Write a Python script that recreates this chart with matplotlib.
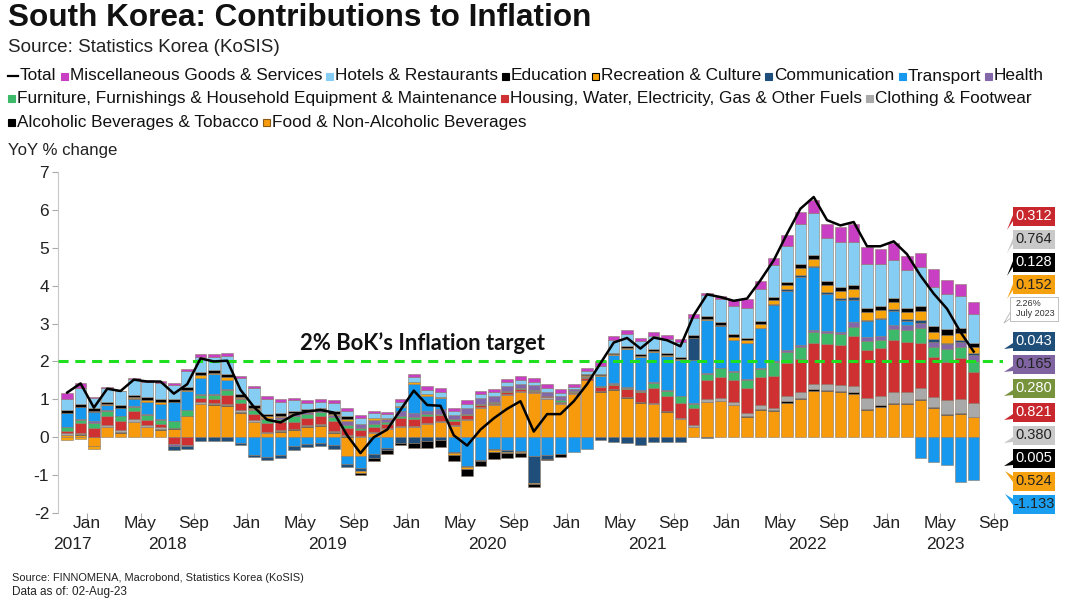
import numpy as np
import matplotlib.pyplot as plt
from matplotlib.lines import Line2D
from matplotlib.patches import Rectangle, Polygon
import matplotlib.transforms as mtransforms

plt.rcParams['font.family'] = ['Liberation Sans', 'DejaVu Sans']
plt.rcParams['axes.unicode_minus'] = False

# monthly contributions (pp), Nov 2017 .. Jul 2023
start_year, start_month = 2017, 11

total = [1.18, 1.42, 0.78, 1.28, 1.22, 1.52, 1.47, 1.47, 1.15, 1.40,
         2.08, 2.00, 2.02, 1.25, 0.80, 0.46, 0.39, 0.59, 0.68, 0.72,
         0.65, 0.05, -0.42, 0.00, 0.20, 0.72, 1.23, 0.85, 0.83, 0.05,
         -0.22, 0.20, 0.50, 0.75, 0.95, 0.15, 0.61, 0.61, 0.95, 1.40,
         1.95, 2.50, 2.62, 2.34, 2.63, 2.56, 2.40, 3.22, 3.77, 3.70,
         3.60, 3.66, 4.14, 4.67, 5.37, 6.03, 6.34, 5.73, 5.59, 5.68,
         5.04, 5.04, 5.17, 4.83, 4.27, 3.79, 3.39, 2.78, 2.26]

food = [0.05, 0.06, -0.22, 0.26, 0.12, 0.39, 0.26, 0.19, 0.22, 0.55,
        0.87, 0.85, 0.82, 0.65, 0.39, 0.10, 0.15, 0.19, 0.28, 0.30,
        0.12, -0.50, -0.50, 0.10, 0.22, 0.26, 0.26, 0.35, 0.41, 0.30,
        0.46, 0.78, 0.85, 1.12, 1.20, 1.16, 1.02, 0.87, 1.15, 1.50,
        1.20, 1.25, 1.04, 0.91, 0.87, 0.67, 0.47, 0.26, 0.93, 0.95,
        0.84, 0.54, 0.71, 0.70, 0.91, 1.00, 1.22, 1.22, 1.20, 1.15,
        0.71, 0.80, 0.87, 0.87, 0.98, 0.76, 0.58, 0.62, 0.524]
alcohol = [0.02, 0.02, 0.00, 0.02, 0.02, 0.02, 0.02, 0.02, 0.02, 0.02,
           0.02, 0.02, 0.02, 0.02, 0.02, 0.02, 0.02, 0.02, 0.02, 0.02,
           0.02, 0.02, 0.00, 0.00, 0.00, 0.00, 0.00, 0.00, 0.00, 0.00,
           0.00, 0.00, 0.00, 0.00, 0.00, 0.00, 0.00, 0.00, 0.00, 0.00,
           0.01, 0.01, 0.01, 0.01, 0.01, 0.01, 0.01, 0.01, 0.01, 0.01,
           0.01, 0.02, 0.04, 0.03, 0.05, 0.04, 0.04, 0.03, 0.03, 0.04,
           0.04, 0.04, 0.04, 0.04, 0.03, 0.03, 0.03, 0.03, 0.005]
clothing = [0.03, 0.03, -0.02, 0.03, 0.04, 0.07, 0.04, 0.05, 0.00, 0.00,
            0.03, 0.03, 0.04, 0.04, 0.04, 0.03, 0.02, 0.02, 0.02, 0.02,
            0.03, 0.03, 0.03, 0.03, 0.02, 0.03, 0.03, 0.03, 0.03, 0.02,
            0.03, 0.03, 0.02, 0.03, 0.03, 0.03, 0.03, 0.03, 0.02, 0.02,
            0.02, 0.02, 0.02, 0.02, 0.02, 0.02, 0.03, 0.04, 0.08, 0.07,
            0.08, 0.07, 0.09, 0.05, 0.12, 0.15, 0.14, 0.16, 0.15, 0.16,
            0.29, 0.26, 0.28, 0.28, 0.28, 0.28, 0.37, 0.37, 0.380]
housing = [0.06, 0.26, 0.25, 0.25, 0.24, 0.20, 0.14, 0.09, -0.18, -0.20,
           0.12, 0.12, 0.24, 0.20, 0.16, 0.22, 0.20, 0.16, 0.20, 0.22,
           0.25, 0.20, 0.15, 0.15, 0.10, 0.22, 0.20, 0.18, 0.14, 0.12,
           0.10, 0.05, 0.04, 0.04, 0.04, 0.04, 0.03, 0.04, 0.03, 0.03,
           0.09, 0.10, 0.20, 0.25, 0.40, 0.39, 0.40, 0.45, 0.48, 0.57,
           0.57, 0.66, 0.75, 0.84, 0.88, 0.88, 1.09, 1.06, 1.06, 1.32,
           1.25, 1.25, 1.38, 1.32, 1.20, 1.06, 1.01, 1.06, 0.821]
furnishings = [0.10, 0.09, 0.13, 0.13, 0.13, 0.11, 0.13, 0.10, 0.20, 0.16,
               0.08, 0.10, 0.12, 0.09, 0.11, 0.10, 0.10, 0.16, 0.10, 0.10,
               0.11, 0.06, 0.06, 0.06, 0.05, 0.05, 0.04, 0.04, 0.04, 0.03,
               0.03, 0.02, 0.02, 0.02, 0.02, 0.02, 0.02, 0.03, 0.03, 0.03,
               0.02, 0.03, 0.03, 0.03, 0.13, 0.13, 0.17, 0.13, 0.18, 0.22,
               0.22, 0.22, 0.22, 0.37, 0.29, 0.31, 0.29, 0.28, 0.29, 0.25,
               0.26, 0.22, 0.29, 0.33, 0.38, 0.26, 0.33, 0.31, 0.280]
health = [0.02, 0.02, 0.04, 0.04, 0.02, 0.03, 0.03, 0.03, -0.05, -0.03,
          0.02, 0.02, 0.02, 0.03, 0.03, 0.05, 0.05, 0.05, 0.04, 0.05,
          0.05, 0.12, 0.12, 0.12, 0.10, 0.12, 0.10, 0.10, 0.12, 0.12,
          0.15, 0.15, 0.16, 0.13, 0.12, 0.12, 0.10, 0.12, 0.05, 0.03,
          0.02, 0.02, 0.02, 0.02, 0.02, 0.02, 0.02, 0.02, 0.02, 0.02,
          0.02, 0.02, 0.02, 0.03, 0.04, 0.05, 0.06, 0.05, 0.06, 0.13,
          0.10, 0.10, 0.11, 0.11, 0.15, 0.13, 0.13, 0.13, 0.165]
transport = [0.37, 0.33, 0.25, 0.13, 0.19, 0.20, 0.30, 0.40, 0.48, 0.50,
             0.42, 0.52, 0.25, -0.14, -0.47, -0.53, -0.47, -0.23, -0.18, -0.14,
             -0.20, -0.21, -0.32, -0.45, -0.28, 0.12, 0.78, 0.40, 0.30, -0.38,
             -0.76, -0.60, -0.32, -0.35, -0.36, -0.50, -0.47, -0.43, -0.39, -0.30,
             0.26, 0.73, 1.00, 0.88, 0.80, 0.90, 0.93, 1.13, 1.40, 1.10,
             0.82, 0.96, 1.04, 1.47, 1.57, 1.81, 1.64, 0.99, 0.84, 0.57,
             0.42, 0.45, 0.37, 0.13, -0.56, -0.65, -0.74, -1.18, -1.133]
communication = [0.00, 0.00, 0.02, 0.00, 0.00, 0.02, 0.01, 0.00, -0.10, -0.08,
                 -0.10, -0.10, -0.10, -0.06, -0.05, -0.07, -0.07, -0.12, -0.09, -0.10,
                 -0.10, -0.08, -0.08, -0.10, -0.06, -0.16, -0.14, -0.10, -0.08, -0.03,
                 -0.02, -0.02, -0.03, -0.03, -0.03, -0.70, -0.10, 0.00, 0.00, 0.00,
                 -0.08, -0.12, -0.14, -0.20, -0.12, -0.12, -0.12, 0.57, -0.03, 0.01,
                 0.01, 0.01, 0.02, 0.02, 0.04, 0.04, 0.04, 0.04, 0.04, 0.09,
                 0.03, 0.03, 0.04, 0.04, 0.07, 0.06, 0.04, 0.04, 0.043]
recreation = [-0.08, -0.05, -0.08, 0.02, 0.02, 0.02, 0.04, 0.04, 0.02, 0.02,
              0.07, 0.03, 0.07, 0.04, 0.03, 0.03, 0.03, 0.03, 0.03, 0.03,
              0.04, 0.05, -0.04, 0.04, 0.03, 0.03, 0.04, 0.03, 0.03, -0.05,
              -0.06, -0.02, -0.05, -0.04, -0.03, -0.04, 0.00, 0.00, 0.00, 0.02,
              0.02, 0.03, 0.03, 0.03, 0.03, 0.03, 0.03, 0.02, 0.02, 0.02,
              0.08, 0.07, 0.11, 0.11, 0.12, 0.18, 0.18, 0.20, 0.18, 0.20,
              0.21, 0.21, 0.19, 0.19, 0.24, 0.20, 0.22, 0.19, 0.152]
education = [0.06, 0.06, 0.07, 0.06, 0.06, 0.06, 0.08, 0.08, 0.08, 0.08,
             0.10, 0.09, 0.10, 0.07, 0.07, 0.07, 0.06, 0.06, 0.05, 0.04,
             0.08, 0.07, -0.06, -0.08, -0.10, -0.04, -0.15, -0.18, -0.18, -0.18,
             -0.18, -0.13, -0.18, -0.13, -0.10, -0.07, -0.03, -0.09, 0.00, 0.05,
             0.04, 0.04, 0.05, 0.05, 0.05, 0.05, 0.05, 0.06, 0.07, 0.07,
             0.07, 0.06, 0.06, 0.07, 0.07, 0.10, 0.10, 0.10, 0.11, 0.10,
             0.10, 0.11, 0.11, 0.11, 0.13, 0.16, 0.14, 0.13, 0.128]
hotels = [0.31, 0.42, 0.28, 0.35, 0.37, 0.41, 0.41, 0.42, 0.36, 0.41,
          0.40, 0.35, 0.46, 0.41, 0.44, 0.38, 0.31, 0.28, 0.17, 0.16,
          0.20, 0.15, 0.15, 0.13, 0.08, 0.10, 0.13, 0.12, 0.12, 0.10,
          0.12, 0.12, 0.10, 0.11, 0.11, 0.10, 0.09, 0.08, 0.05, 0.06,
          0.21, 0.33, 0.33, 0.33, 0.35, 0.38, 0.41, 0.45, 0.57, 0.60,
          0.75, 0.79, 0.84, 0.85, 0.97, 1.06, 1.11, 1.14, 1.18, 1.14,
          1.16, 1.10, 1.01, 0.99, 1.02, 1.03, 0.94, 0.84, 0.764]
misc = [0.15, 0.14, 0.02, 0.03, 0.02, 0.04, 0.04, 0.06, 0.04, 0.05,
        0.07, 0.06, 0.07, 0.06, 0.07, 0.08, 0.07, 0.07, 0.08, 0.07,
        0.08, 0.08, 0.07, 0.07, 0.07, 0.08, 0.09, 0.10, 0.10, 0.08,
        0.08, 0.08, 0.08, 0.08, 0.09, 0.09, 0.11, 0.09, 0.08, 0.08,
        0.11, 0.11, 0.11, 0.09, 0.11, 0.11, 0.07, 0.12, 0.05, 0.09,
        0.16, 0.24, 0.22, 0.18, 0.28, 0.33, 0.35, 0.37, 0.40, 0.48,
        0.44, 0.41, 0.44, 0.38, 0.39, 0.46, 0.35, 0.32, 0.312]

# stacking order, bottom up: (name, values, bar colour, legend edge)
series = [
    ('Food & Non-Alcoholic Beverages', food, '#f79b0c', '#8a5a10'),
    ('Alcoholic Beverages & Tobacco', alcohol, '#000000', '#000000'),
    ('Clothing & Footwear', clothing, '#a9a9a9', '#a9a9a9'),
    ('Housing, Water, Electricity, Gas & Other Fuels', housing, '#cf3132', '#cf3132'),
    ('Furniture, Furnishings & Household Equipment & Maintenance', furnishings, '#3cba6a', '#3cba6a'),
    ('Health', health, '#8467a8', '#8467a8'),
    ('Transport', transport, '#1598ee', '#1598ee'),
    ('Communication', communication, '#1f4e7a', '#1f4e7a'),
    ('Recreation & Culture', recreation, '#f7a30a', '#000000'),
    ('Education', education, '#000000', '#000000'),
    ('Hotels & Restaurants', hotels, '#86cdf3', '#86cdf3'),
    ('Miscellaneous Goods & Services', misc, '#c93fc4', '#c93fc4'),
]
colors = {name: c for name, _, c, _ in series}
edges = {name: e for name, _, _, e in series}

W, H = 1067, 598
fig = plt.figure(figsize=(W / 100, H / 100), dpi=100)
renderer = fig.canvas.get_renderer()


def fx(px):
    return px / W


def fy(py):
    return 1 - py / H


def fit_text(x, y, s, width, **kw):
    t = fig.text(fx(x), fy(y), s, fontsize=10, **kw)
    w = t.get_window_extent(renderer).width
    t.set_fontsize(10 * width / w)
    return t


# ---- header ----
fit_text(8, 18, 'South Korea: Contributions to Inflation', 582,
         fontweight='bold', va='center', color='#111111')
fit_text(8, 47, 'Source: Statistics Korea (KoSIS)', 274, va='center', color='#222222')

# ---- legend rows ----
rows = [
    ['Total', 'Miscellaneous Goods & Services', 'Hotels & Restaurants', 'Education',
     'Recreation & Culture', 'Communication', 'Transport', 'Health'],
    ['Furniture, Furnishings & Household Equipment & Maintenance',
     'Housing, Water, Electricity, Gas & Other Fuels', 'Clothing & Footwear'],
    ['Alcoholic Beverages & Tobacco', 'Food & Non-Alcoholic Beverages'],
]
row_y = [76, 99, 122]
mark_w, gap = 9, 4

# measure row 1 to pick a font size that fills 8..1047 px
probe = 10
widths = []
for lab in rows[0]:
    t = fig.text(0, 0, lab, fontsize=probe)
    widths.append(t.get_window_extent(renderer).width)
    t.remove()
fixed = len(rows[0]) * mark_w + (len(rows[0]) - 1) * gap + 3
leg_fs = probe * (1047 - 8 - fixed) / sum(widths)

for labels, y in zip(rows, row_y):
    x = 8
    for lab in labels:
        if lab == 'Total':
            fig.add_artist(Line2D([fx(x), fx(x + 10)], [fy(y), fy(y)], color='black', lw=1.6))
            x += mark_w + 3
        else:
            fig.add_artist(Rectangle((fx(x), fy(y + 3.5)), 7 / W, 7 / H,
                                     facecolor=colors[lab], edgecolor=edges[lab], lw=0.8))
            x += mark_w
        t = fig.text(fx(x), fy(y), lab, fontsize=leg_fs, va='center', color='#111111')
        x += t.get_window_extent(renderer).width + gap

fit_text(8, 151, 'YoY % change', 109, va='center', color='#222222')

# ---- main axes ----
ax = fig.add_axes([fx(57.5), fy(513), (1003 - 57.5) / W, (513 - 172) / H])
n = len(total)
x = np.arange(n) + 0.5
pos_base = np.zeros(n)
neg_base = np.zeros(n)
for name, vals, col, _ in series:
    v = np.array(vals)
    base = np.where(v >= 0, pos_base, neg_base)
    ax.bar(x, v, width=0.86, bottom=base, color=col, edgecolor='#8c7b6b', linewidth=0.4, zorder=2)
    pos_base += np.clip(v, 0, None)
    neg_base += np.clip(v, None, 0)

ax.plot(x, total, color='black', lw=1.8, zorder=4)
ax.axhline(2, color='#1ee01e', lw=2.2, ls=(0, (3.3, 2.2)), zorder=3)

ax.set_ylim(-2, 7)
ax.set_xlim(-0.23, 70.7)
for s in ['top', 'right', 'bottom']:
    ax.spines[s].set_visible(False)
ax.spines['left'].set_color('#c8c8c8')
ax.set_yticks(range(-2, 8))
ax.tick_params(axis='y', length=4, width=0.8, color='#aaaaaa', labelsize=12.5,
               labelcolor='#222222', pad=2)

# month ticks at Jan / May / Sep
tick_pos, tick_lab = [], []
for i in range(n + 3):
    m = (start_month - 1 + i) % 12 + 1
    if m in (1, 5, 9):
        tick_pos.append(i)
        tick_lab.append({1: 'Jan', 5: 'May', 9: 'Sep'}[m])
ax.set_xticks(tick_pos)
ax.set_xticklabels([])
ax.tick_params(axis='x', length=5, width=0.8, color='#aaaaaa')
trans = mtransforms.blended_transform_factory(ax.transData, ax.transAxes)
for p, lab in zip(tick_pos, tick_lab):
    ax.text(p, -0.03, lab, transform=trans, ha='center', va='center',
            fontsize=12.5, color='#222222')
# year labels centred in the visible part of each year
x0, x1 = ax.get_xlim()
for yr in range(start_year, start_year + 7):
    a = (yr - start_year) * 12 - (start_month - 1)
    lo, hi = max(a, x0), min(a + 12, x1)
    ax.text((lo + hi) / 2, -0.092, str(yr), transform=trans, ha='center', va='center',
            fontsize=12.5, color='#222222')

# target annotation
fit_text(422, 343, '2% BoK\u2019s Inflation target', 245, family=['Lato', 'DejaVu Sans'],
         fontweight='bold', ha='center', va='center', color='#111111')

# ---- last-value labels on the right ----
box_style = {
    'Miscellaneous Goods & Services': (216, '#c8282d', 'white', 'down'),
    'Hotels & Restaurants': (239, '#c9c9c9', '#222222', 'down'),
    'Education': (262, '#000000', 'white', 'down'),
    'Recreation & Culture': (285, '#f5a00f', '#222222', 'down'),
    'Communication': (341, '#1f4e79', 'white', 'left'),
    'Health': (364, '#8064a2', '#222222', 'left'),
    'Furniture, Furnishings & Household Equipment & Maintenance': (388, '#77933c', 'white', 'left'),
    'Housing, Water, Electricity, Gas & Other Fuels': (412, '#c8282d', 'white', 'left'),
    'Clothing & Footwear': (435, '#c9c9c9', '#222222', 'left'),
    'Alcoholic Beverages & Tobacco': (458, '#000000', 'white', 'left'),
    'Food & Non-Alcoholic Beverages': (481, '#f5a00f', '#222222', 'up'),
    'Transport': (504, '#1a9ef0', '#222222', 'up'),
}
bx0, bx1, bh = 1013, 1055, 19
for name, vals, _, _ in series:
    yc, bg, fg, tail = box_style[name]
    if tail == 'down':
        tri = [(bx0, yc - 1), (bx0, yc + 5), (bx0 - 6, yc + 14)]
    elif tail == 'up':
        tri = [(bx0, yc - 5), (bx0, yc + 1), (bx0 - 8, yc - 10)]
    else:
        tri = [(bx0, yc + 2), (bx0, yc + 7), (bx0 - 9, yc + 8)]
    fig.add_artist(Polygon([(fx(a), fy(b)) for a, b in tri], closed=True,
                           facecolor=bg, edgecolor='none'))
    fig.add_artist(Rectangle((fx(bx0), fy(yc + bh / 2)), (bx1 - bx0) / W, bh / H,
                             facecolor=bg, edgecolor='none'))
    fig.text(fx((bx0 + bx1) / 2), fy(yc), f'{vals[-1]:.3f}', fontsize=10.5,
             color=fg, ha='center', va='center')

# total callout
fig.add_artist(Polygon([(fx(1011), fy(311)), (fx(1011), fy(318)), (fx(1004), fy(323))],
                       closed=True, facecolor='white', edgecolor='#b5b5b5', lw=0.6))
fig.add_artist(Rectangle((fx(1010), fy(321)), 48 / W, 24 / H, facecolor='white',
                         edgecolor='#b5b5b5', lw=0.6))
fig.text(fx(1016), fy(303), f'{total[-1]:.2f}%', fontsize=6.5, color='#333333', va='center')
fig.text(fx(1016), fy(314), 'July 2023', fontsize=6.5, color='#333333', va='center')

# ---- footer ----
foot = ['Liberation Sans Narrow', 'Liberation Sans', 'DejaVu Sans']
fit_text(12, 578, 'Source: FINNOMENA, Macrobond, Statistics Korea (KoSIS)', 292,
         family=foot, va='center', color='#222222')
fit_text(12, 592, 'Data as of: 02-Aug-23', 116, family=foot, va='center', color='#222222')

fig.savefig('out.png', dpi=100)
